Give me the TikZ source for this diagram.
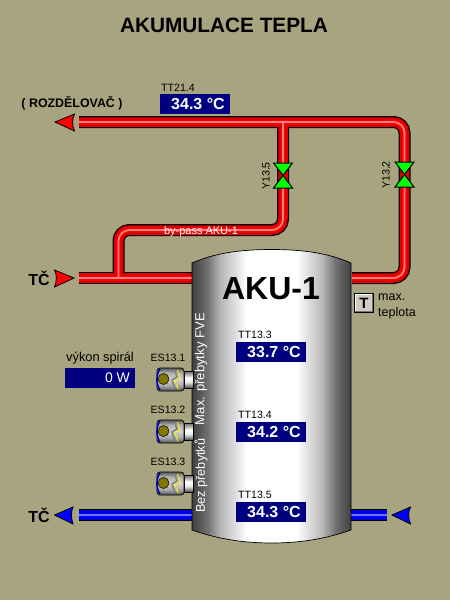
\documentclass[tikz,border=0pt]{standalone}
\usepackage{fontspec}
\setmainfont{Liberation Sans}
\usetikzlibrary{positioning, calc}

\definecolor{panelbg}{HTML}{A9A480}
\definecolor{dispblue}{HTML}{000080}
\definecolor{valvegreen}{HTML}{00FF00}
\definecolor{bulbolive}{HTML}{807800}
\definecolor{btngray}{HTML}{D0CCC0}

\pgfdeclarehorizontalshading{tankshade}{100bp}{
  color(0bp)=(black!75); color(25bp)=(black!75); color(30bp)=(black!55); color(34bp)=(black!28);
  color(42.3bp)=(white); color(58bp)=(white); color(66bp)=(black!28); color(70bp)=(black!55);
  color(75bp)=(black!75); color(100bp)=(black!75)}
\pgfdeclareverticalshading{heatershade}{100bp}{
  color(0bp)=(black!70); color(25bp)=(black!70); color(36bp)=(black!35);
  color(50bp)=(black!18); color(64bp)=(black!30); color(75bp)=(black!65); color(100bp)=(black!65)}
\pgfdeclareverticalshading{collarshade}{100bp}{
  color(0bp)=(black!70); color(25bp)=(black!70); color(42bp)=(black!10);
  color(55bp)=(white); color(75bp)=(black!60); color(100bp)=(black!60)}

\begin{document}
\begin{tikzpicture}[
  x=1pt, y=-1pt,
  txt/.style={font=\fontsize{10.6}{12}\selectfont, inner sep=0pt},
  disp/.style={fill=dispblue, text=white, minimum width=70pt, minimum height=20pt,
               inner sep=0pt, font=\fontsize{16}{16}\bfseries\selectfont,
               execute at begin node={\hspace*{6pt}}},
  tclbl/.style={font=\fontsize{16}{16}\bfseries\selectfont, inner sep=0pt},
  tip/.style={draw=black, line width=0.8pt, line join=miter},
  valve/.style={draw=black, fill=valvegreen, line width=1pt, line join=miter}
]
\useasboundingbox[fill=panelbg] (0,0) rectangle (450,600);

\node[font=\fontsize{20.8}{21}\bfseries\selectfont, inner sep=0pt] (title) at (224,25) {AKUMULACE TEPLA};

% pipe end points
\coordinate (rozd) at (79,122);
\coordinate (cornerNE) at (404.5,122);
\coordinate (tee) at (283,122);
\coordinate (akuOut) at (352,278);
\coordinate (cornerSE) at (404.5,278);
\coordinate (tcIn) at (79,278);
\coordinate (akuIn) at (193,278);
\coordinate (teeLow) at (118.5,278);
\coordinate (passW) at (118.5,230);
\coordinate (passE) at (283,230);
\coordinate (backL) at (79,515);
\coordinate (akuBackL) at (193,515);
\coordinate (akuBackR) at (351,515);
\coordinate (backR) at (387,515);

% red pipes
\foreach \wd/\col in {12/black, 9.5/red!85!black, 5/red, 1.8/red!50!white}{
  \draw[line width=\wd pt, color=\col, rounded corners=11pt]
    (rozd) -- (cornerNE) -- (cornerSE) -- (akuOut);
  \draw[line width=\wd pt, color=\col, rounded corners=11pt]
    (tee) -- (passE) -- (passW) -- (teeLow);
  \draw[line width=\wd pt, color=\col] (tcIn) -- (akuIn);
}
% blue pipes
\foreach \wd/\col in {12/black, 9.5/blue!85!black, 5/blue, 1.8/blue!55!white}{
  \draw[line width=\wd pt, color=\col] (backL) -- (akuBackL);
  \draw[line width=\wd pt, color=\col] (akuBackR) -- (backR);
}

% arrow heads
\draw[tip, fill=red] (55,122) -- (74.5,114) .. controls (72,119) and (72,125) .. (74.5,131) -- cycle;
\draw[tip, fill=red] (74,278) -- (54.5,270) .. controls (57,275) and (57,281) .. (54.5,287) -- cycle;
\draw[tip, fill=blue] (54.5,515) -- (73,507) .. controls (71,512) and (71,518) .. (73,524) -- cycle;
\draw[tip, fill=blue] (392,515) -- (410.5,507) .. controls (408,512) and (408,518) .. (410.5,524) -- cycle;

\node[font=\fontsize{12.4}{13}\bfseries\selectfont, inner sep=0pt] (rozdlbl) at (72,103) {( ROZDĚLOVAČ )};
\node[tclbl] (tctop) at (39,278) {TČ};
\node[tclbl] (tcbot) at (39,515) {TČ};

% valves
\draw[valve] (273.5,163) -- (292.5,163) -- (273.5,188) -- (292.5,188) -- cycle;
\draw[valve] (395,162) -- (414,162) -- (395,187) -- (414,187) -- cycle;
\node[txt, rotate=90] (y135) at (266,176) {Y13.5};
\node[txt, rotate=90] (y132) at (386,175) {Y13.2};

\node[font=\fontsize{11}{12}\selectfont, text=white, inner sep=0pt] (bypass) at (201,232) {by-pass AKU-1};

% tank
\draw[black, shading=tankshade, line width=0.7pt]
  (192,263) .. controls (215,253) and (240,249.5) .. (271.5,249.5)
  .. controls (303,249.5) and (328,253) .. (351,263)
  -- (351,530) .. controls (328,538) and (303,543) .. (271.5,543)
  .. controls (240,543) and (215,538) .. (192,530) -- cycle;
\node[font=\fontsize{32}{32}\bfseries\selectfont, inner sep=0pt] (aku) at (271,289) {AKU-1};
\node[rotate=90, text=white, font=\fontsize{12.7}{13}\selectfont, inner sep=0pt, anchor=west] (bez) at (201,513) {Bez přebytků};
\node[rotate=90, text=white, font=\fontsize{13.1}{14}\selectfont, inner sep=0pt, anchor=east] (maxfve) at (201,313) {Max. přebytky FVE};

% displays
\node[txt] (tt214) at (178,88) {TT21.4};
\node[disp] (d214) at (195,104) {34.3 °C};
\foreach \nm/\val/\yy in {13.3/33.7/352, 13.4/34.2/432, 13.5/34.3/512}{
  \node[txt, anchor=west] at (238,\yy-17) {TT\nm};
  \node[disp] at (271,\yy) {\val{} °C};
}
\node[font=\fontsize{12.8}{13}\selectfont, inner sep=0pt] (vykon) at (100,358) {výkon spirál};
\node[fill=dispblue, text=white, minimum width=70pt, minimum height=20pt, inner sep=0pt,
      font=\fontsize{14}{14}\selectfont] (dvykon) at (100,378) {\hspace*{35pt}0 W};

% heaters
\foreach \nm/\yy in {13.1/368, 13.2/420, 13.3/472}{
  \node[txt] at (168,\yy-10) {ES\nm};
  \draw[black, shading=collarshade, line width=0.6pt] (184,\yy+3) rectangle (193,\yy+20);
  \draw[black, shading=heatershade, line width=0.7pt, rounded corners=3pt]
    (157,\yy) -- (184,\yy) -- (184,\yy+23) -- (157,\yy+23) -- cycle;
  \draw[blue!75!black, line width=1.6pt] (160,\yy+1) .. controls (156,\yy+6) and (156,\yy+17) .. (160,\yy+22);
  \draw[black!50, line width=1.5pt] (175,\yy+3) -- (177,\yy+9) -- (172,\yy+12) -- (175,\yy+21);
  \draw[yellow, line width=0.9pt] (177.5,\yy+2) -- (180,\yy+10) -- (175,\yy+13) -- (178,\yy+21);
  \draw[black, fill=bulbolive, line width=0.5pt] (163.5,\yy+11) circle (5.5);
}

% max temp flag
\node[draw=black, fill=btngray, line width=0.8pt, minimum size=19pt, inner sep=0pt,
      font=\fontsize{15}{15}\bfseries\selectfont] (tbtn) at (364,303) {T};
\draw[white, line width=0.8pt] ($(tbtn.south west)+(1.2,-1.2)$) -- ($(tbtn.north west)+(1.2,1.2)$) -- ($(tbtn.north east)+(-1.2,1.2)$);
\draw[black!55, line width=0.8pt] ($(tbtn.north east)+(-1.2,1.2)$) -- ($(tbtn.south east)+(-1.2,-1.2)$) -- ($(tbtn.south west)+(1.2,-1.2)$);
\node[font=\fontsize{12.5}{13}\selectfont, inner sep=0pt, anchor=west] (maxlbl) at (378,297) {max.};
\node[font=\fontsize{12.5}{13}\selectfont, inner sep=0pt, anchor=west] (teplota) at (378,313) {teplota};
\end{tikzpicture}
\end{document}
